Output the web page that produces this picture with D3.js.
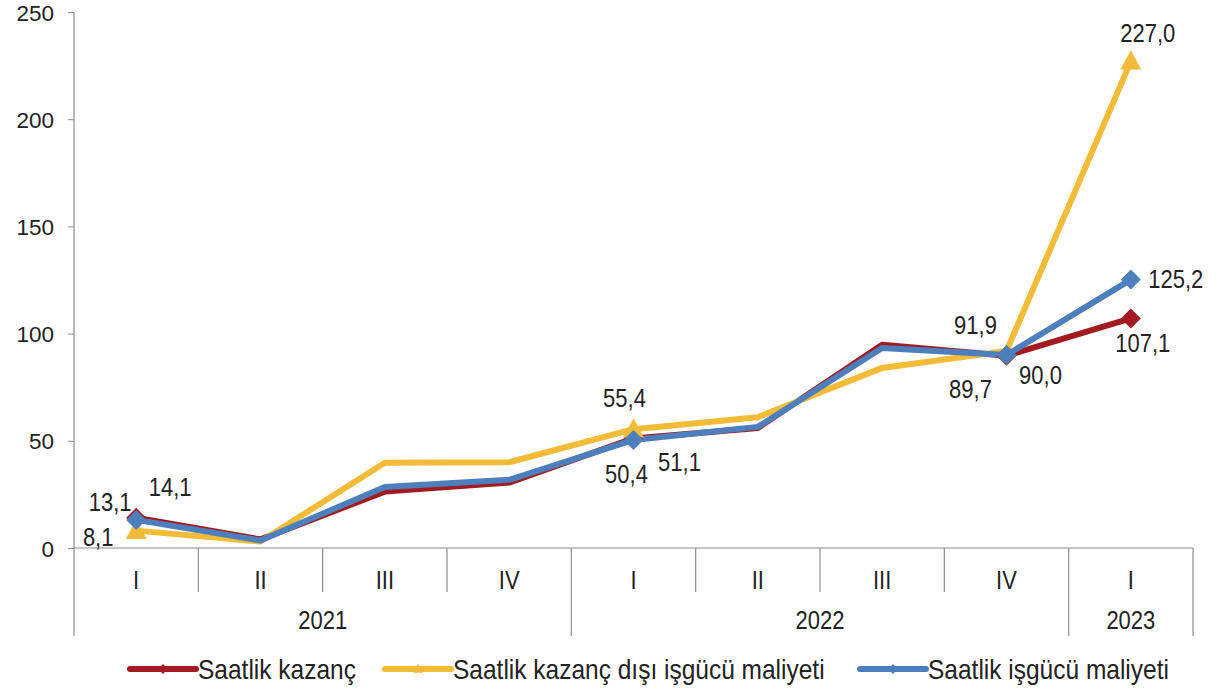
<!DOCTYPE html>
<html>
<head>
<meta charset="utf-8">
<script src="https://cdn.jsdelivr.net/npm/d3@7"></script>
<style>
  html, body { margin: 0; padding: 0; background: #ffffff; }
  svg { display: block; font-family: "Liberation Sans", Arial, sans-serif; }
</style>
</head>
<body>
<svg id="chart" width="1223" height="692"></svg>
<script>
// ---- DATA ----
const quarters = ["I", "II", "III", "IV", "I", "II", "III", "IV", "I"];
const years = ["2021", "2022", "2023"];
const yearSpans = [4, 4, 1];
const yTicks = [0, 50, 100, 150, 200, 250];

const seriesNames = [
  "Saatlik kazanç",
  "Saatlik kazanç dışı işgücü maliyeti",
  "Saatlik işgücü maliyeti"
];
const kazanc      = [14.1, 4.0, 26.3, 30.5, 51.1, 56.0, 94.8, 89.7, 107.1];
const kazancDisi  = [8.1, 3.0, 39.8, 40.0, 55.4, 61.0, 84.0, 91.9, 227.0];
const isgucu      = [13.1, 3.5, 28.5, 31.8, 50.4, 56.5, 93.3, 90.0, 125.2];
// indices of values that carry a data label
const labelled = [0, 4, 7, 8];

(function () {
// ---- STYLE / LAYOUT ----
const colors = ["#a31b20", "#f2bb38", "#4d7fbc"];
const seriesData = [kazanc, kazancDisi, isgucu];
const markerType = ["diamond", "triangle", "diamond"];
const markerIdx = [[0, 4, 7, 8], [0, 4, 8], [0, 4, 7, 8]];
// label offsets [dx, dy] per series, per labelled index
const labelOffsets = [
  { 0: [34, -31], 4: [46, 24], 7: [-36, 33], 8: [12, 25] },
  { 0: [-38, 6], 4: [-9, -31], 7: [-31, -26], 8: [17, -28] },
  { 0: [-26, -18], 4: [-7, 34], 7: [34, 20], 8: [45, 0] }
];
const SY = 1.15; // vertical stretch of glyphs as in the reference

const svg = d3.select("#chart");
const mLeft = 74, mRight = 1193, mTop = 12, mBottom = 548;
const axisColor = "#8c8c8c";
const textColor = "#222222";

function stretch(sel) {
  sel.each(function () {
    const t = d3.select(this);
    const tx = +t.attr("x") || 0, ty = +t.attr("y") || 0;
    t.attr("x", 0).attr("y", 0).attr("transform", `translate(${tx},${ty}) scale(1,${SY})`);
  });
}

const x = d3.scaleBand().domain(d3.range(quarters.length)).range([mLeft, mRight]).paddingInner(0).paddingOuter(0);
const y = d3.scaleLinear().domain([0, 250]).range([mBottom, mTop]);
const trFmt = d3.formatLocale({ decimal: ",", thousands: ".", grouping: [3], currency: ["", ""] }).format(".1f");

// Y axis
const yAxis = svg.append("g")
  .attr("transform", `translate(${mLeft},0)`)
  .call(d3.axisLeft(y).tickValues(yTicks).tickSize(6).tickPadding(14).tickFormat(d3.format("d")));
yAxis.select(".domain").remove();
yAxis.selectAll(".tick line").attr("stroke", axisColor);
yAxis.selectAll(".tick text").attr("font-size", 22.5).attr("fill", textColor)
  .attr("font-family", "Liberation Sans, Arial, sans-serif").attr("dy", "0.36em");
svg.append("line").attr("x1", mLeft).attr("x2", mLeft).attr("y1", mTop).attr("y2", 636)
  .attr("stroke", axisColor).attr("stroke-width", 1.2);

// X axis (zero line)
svg.append("line").attr("x1", mLeft).attr("x2", mRight).attr("y1", y(0)).attr("y2", y(0))
  .attr("stroke", axisColor).attr("stroke-width", 1.2);

// Quarter labels
const xAxis = svg.append("g")
  .attr("transform", `translate(0,${y(0)})`)
  .call(d3.axisBottom(x).tickSize(0).tickPadding(32).tickFormat(i => quarters[i]));
xAxis.select(".domain").remove();
xAxis.selectAll(".tick text").attr("font-size", 22).attr("fill", textColor)
  .attr("font-family", "Liberation Sans, Arial, sans-serif").attr("dy", "0.35em").call(stretch);

// dividers
const yearBounds = [0];
yearSpans.forEach((s, i) => yearBounds.push(yearBounds[i] + s));
for (let i = 1; i < quarters.length; i++) {
  const isYear = yearBounds.includes(i);
  const xx = x(i);
  svg.append("line").attr("x1", xx).attr("x2", xx).attr("y1", y(0)).attr("y2", isYear ? 636 : 592)
    .attr("stroke", axisColor).attr("stroke-width", 1.2);
}
svg.append("line").attr("x1", mRight).attr("x2", mRight).attr("y1", y(0)).attr("y2", 636)
  .attr("stroke", axisColor).attr("stroke-width", 1.2);

years.forEach((yr, i) => {
  const x0 = x(yearBounds[i]);
  const x1 = yearBounds[i + 1] < quarters.length ? x(yearBounds[i + 1]) : mRight;
  svg.append("text").attr("x", (x0 + x1) / 2).attr("y", 620).attr("dy", "0.35em")
    .attr("text-anchor", "middle").attr("font-size", 22).attr("fill", textColor).text(yr).call(stretch);
});

// Lines
const line = d3.line().x((d, i) => x(i) + x.bandwidth() / 2).y(d => y(d));
const diamond = s => `M0,${-s}L${s},0L0,${s}L${-s},0Z`;
const triangle = s => `M0,${-s}L${s * 0.95},${s * 0.75}L${-s * 0.95},${s * 0.75}Z`;

seriesData.forEach((data, si) => {
  svg.append("path").datum(data).attr("d", line).attr("fill", "none")
    .attr("stroke", colors[si]).attr("stroke-width", 6).attr("stroke-linejoin", "round");
});
seriesData.forEach((data, si) => {
  markerIdx[si].forEach(i => {
    svg.append("path")
      .attr("transform", `translate(${x(i) + x.bandwidth() / 2},${y(data[i])})`)
      .attr("d", markerType[si] === "diamond" ? diamond(10) : triangle(11))
      .attr("fill", colors[si]);
  });
});

// Data labels
seriesData.forEach((data, si) => {
  labelled.forEach(i => {
    const [dx, dy] = labelOffsets[si][i];
    svg.append("text")
      .attr("x", x(i) + x.bandwidth() / 2 + dx)
      .attr("y", y(data[i]) + dy)
      .attr("dy", "0.35em").attr("text-anchor", "middle")
      .attr("font-size", 22).attr("fill", textColor)
      .text(trFmt(data[i])).call(stretch);
  });
});

// Legend
const legendItems = [
  { x: 130, tx: 198 },
  { x: 385, tx: 453 },
  { x: 860, tx: 928 }
];
seriesNames.forEach((name, si) => {
  const g = svg.append("g");
  const ly = 669;
  g.append("line").attr("x1", legendItems[si].x).attr("x2", legendItems[si].x + 66)
    .attr("y1", ly).attr("y2", ly).attr("stroke", colors[si]).attr("stroke-width", 6).attr("stroke-linecap", "round");
  g.append("path").attr("transform", `translate(${legendItems[si].x + 33},${ly})`)
    .attr("d", markerType[si] === "diamond" ? diamond(5) : triangle(5)).attr("fill", colors[si]);
  g.append("text").attr("x", legendItems[si].tx).attr("y", ly).attr("dy", "0.35em")
    .attr("font-size", 24.5).attr("fill", textColor).text(name).call(stretch);
});
})();
</script>
</body>
</html>
